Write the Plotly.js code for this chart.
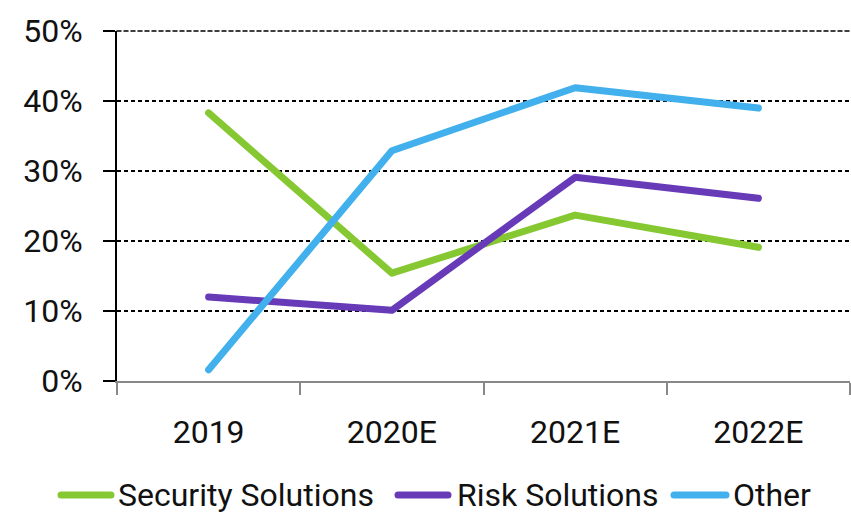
<!DOCTYPE html>
<html>
<head>
<meta charset="utf-8">
<script src="https://cdn.plot.ly/plotly-3.0.1.min.js"></script>
<style>
  html, body { margin: 0; padding: 0; background: #fff; }
  #chart { width: 851px; height: 513px; }
  /* rounded ends on the series strokes */
  #chart .scatterlayer .js-line { stroke-linecap: round; stroke-linejoin: round; }
</style>
</head>
<body>
<div id="chart"></div>
<script>
// Revenue growth by segment, in percent
const years = ['2019', '2020E', '2021E', '2022E'];
const securitySolutions = [38.3, 15.4, 23.7, 19.1];
const riskSolutions = [12.0, 10.1, 29.1, 26.1];
const other = [1.6, 32.9, 41.9, 39.0];
const yTicks = [0, 10, 20, 30, 40, 50];
const seriesNames = ['Security Solutions', 'Risk Solutions', 'Other'];
const seriesColors = ['#86C832', '#673AB7', '#41B0EC'];

const FONT = 'Roboto, "Liberation Sans", Arial, sans-serif';
const W = 851, H = 513;
const M = { l: 117, r: 1, t: 31, b: 132 };

// pixel position on the page -> paper coordinates
const px2x = px => (px - M.l) / (W - M.l - M.r);
const px2y = py => (H - M.b - py) / (H - M.t - M.b);

function series(name, values, color) {
  return {
    type: 'scatter',
    mode: 'lines',
    name: name,
    x: years,
    y: values,
    line: { color: color, width: 7 },
    hoverinfo: 'skip',
    showlegend: false
  };
}

const allValues = [securitySolutions, riskSolutions, other];
const data = allValues.map((vals, i) => series(seriesNames[i], vals, seriesColors[i]));

// legend drawn below the axis: a short stroke followed by the series name
const legendRow = 495;
const legendItems = [
  { line: [61, 111], text: 116 },
  { line: [398, 448], text: 455 },
  { line: [674, 726], text: 731 }
];
const shapes = [];
const annotations = [];
legendItems.forEach((it, i) => {
  shapes.push({
    type: 'line', xref: 'paper', yref: 'paper',
    x0: px2x(it.line[0]), x1: px2x(it.line[1]),
    y0: px2y(legendRow), y1: px2y(legendRow),
    line: { color: seriesColors[i], width: 7 },
    layer: 'above'
  });
  annotations.push({
    xref: 'paper', yref: 'paper',
    x: px2x(it.text), y: px2y(legendRow),
    xanchor: 'left', yanchor: 'middle',
    text: seriesNames[i],
    showarrow: false,
    font: { family: FONT, size: 32, color: '#111111' }
  });
});

// dashed gridline along the top of the value axis (50%)
shapes.push({
  type: 'line', xref: 'paper', yref: 'paper',
  x0: 0, x1: 1, y0: 1, y1: 1,
  line: { color: '#000000', width: 1.5, dash: '4px,3px' },
  layer: 'below'
});

const layout = {
  width: W,
  height: H,
  margin: M,
  paper_bgcolor: '#ffffff',
  plot_bgcolor: '#ffffff',
  font: { family: FONT, size: 32, color: '#111111' },
  showlegend: false,
  shapes: shapes,
  annotations: annotations,
  xaxis: {
    type: 'category',
    range: [-0.5, 3.5],
    showgrid: false,
    zeroline: false,
    showline: true,
    linecolor: '#888888',
    linewidth: 2,
    ticks: 'outside',
    tickson: 'boundaries',
    ticklen: 12,
    tickwidth: 2,
    tickcolor: '#888888',
    ticklabelstandoff: 22,
    fixedrange: true
  },
  yaxis: {
    range: [yTicks[0], yTicks[yTicks.length - 1]],
    tickvals: yTicks,
    ticktext: yTicks.map(v => v + '%'),
    showgrid: true,
    gridcolor: '#000000',
    gridwidth: 1.5,
    griddash: '4px,3px',
    zeroline: false,
    showline: true,
    linecolor: '#000000',
    linewidth: 2,
    ticks: 'outside',
    ticklen: 12,
    tickwidth: 2,
    tickcolor: '#000000',
    ticklabelstandoff: 14,
    fixedrange: true
  }
};

Plotly.newPlot('chart', data, layout, { displayModeBar: false, staticPlot: true }).then(gd => {
  gd.querySelectorAll('.shapelayer path').forEach(p => p.style.strokeLinecap = 'round');
});
</script>
</body>
</html>
